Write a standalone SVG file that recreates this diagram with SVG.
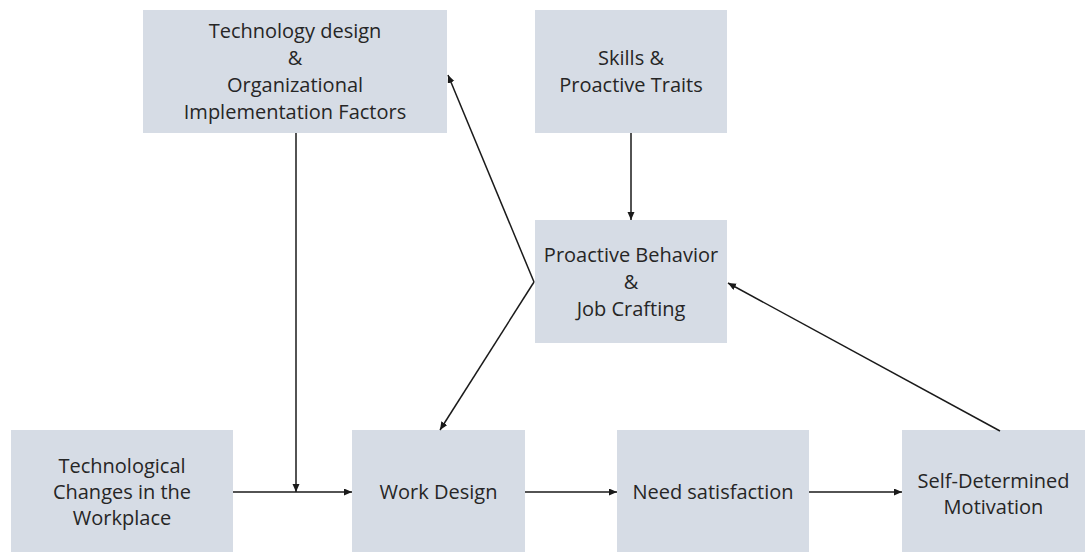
<svg xmlns="http://www.w3.org/2000/svg" width="1085" height="552" viewBox="0 0 1085 552">
  <style>
    .box { fill: #D6DCE5; }
    .label { font-family: "Open Sans", "Liberation Sans", sans-serif; font-size: 20px; fill: #262626; text-anchor: middle; }
    .link { stroke: #1a1a1a; stroke-width: 1.5; fill: none; }
  </style>
  <defs>
    <marker id="arrow" markerUnits="userSpaceOnUse" markerWidth="9" markerHeight="8" refX="8" refY="3.5" orient="auto">
      <path d="M0,0 L8,3.5 L0,7 z" fill="#1a1a1a"/>
    </marker>
  </defs>

  <rect width="1085" height="552" fill="#ffffff"/>

  <!-- Nodes -->
  <g id="tech-design">
    <rect class="box" x="143" y="10" width="304" height="123"/>
    <text class="label" x="295" y="38">Technology design</text>
    <text class="label" x="295" y="65">&amp;</text>
    <text class="label" x="295" y="92">Organizational</text>
    <text class="label" x="295" y="119">Implementation Factors</text>
  </g>

  <g id="skills">
    <rect class="box" x="535" y="10" width="192" height="123"/>
    <text class="label" x="631" y="65">Skills &amp;</text>
    <text class="label" x="631" y="92">Proactive Traits</text>
  </g>

  <g id="proactive">
    <rect class="box" x="535" y="220" width="192" height="123"/>
    <text class="label" x="631" y="262">Proactive Behavior</text>
    <text class="label" x="631" y="289">&amp;</text>
    <text class="label" x="631" y="316">Job Crafting</text>
  </g>

  <g id="tech-changes">
    <rect class="box" x="11" y="430" width="222" height="122"/>
    <text class="label" x="122" y="473">Technological</text>
    <text class="label" x="122" y="499">Changes in the</text>
    <text class="label" x="122" y="525">Workplace</text>
  </g>

  <g id="work-design">
    <rect class="box" x="352" y="430" width="173" height="122"/>
    <text class="label" x="438.5" y="499">Work Design</text>
  </g>

  <g id="need-satisfaction">
    <rect class="box" x="617" y="430" width="192" height="122"/>
    <text class="label" x="713" y="499">Need satisfaction</text>
  </g>

  <g id="motivation">
    <rect class="box" x="902" y="430" width="183" height="122"/>
    <text class="label" x="993.5" y="488">Self-Determined</text>
    <text class="label" x="993.5" y="514">Motivation</text>
  </g>

  <!-- Connectors -->
  <g id="connectors">
    <line class="link" x1="631" y1="133" x2="631" y2="220" marker-end="url(#arrow)"/>
    <line class="link" x1="296" y1="133" x2="296" y2="492" marker-end="url(#arrow)"/>
    <line class="link" x1="233" y1="492" x2="352" y2="492" marker-end="url(#arrow)"/>
    <line class="link" x1="525" y1="492" x2="617" y2="492" marker-end="url(#arrow)"/>
    <line class="link" x1="809" y1="492" x2="902" y2="492" marker-end="url(#arrow)"/>
    <line class="link" x1="1000" y1="431" x2="728" y2="283" marker-end="url(#arrow)"/>
    <line class="link" x1="534" y1="282" x2="448" y2="75" marker-end="url(#arrow)"/>
    <line class="link" x1="534" y1="282" x2="440" y2="430" marker-end="url(#arrow)"/>
  </g>
</svg>
